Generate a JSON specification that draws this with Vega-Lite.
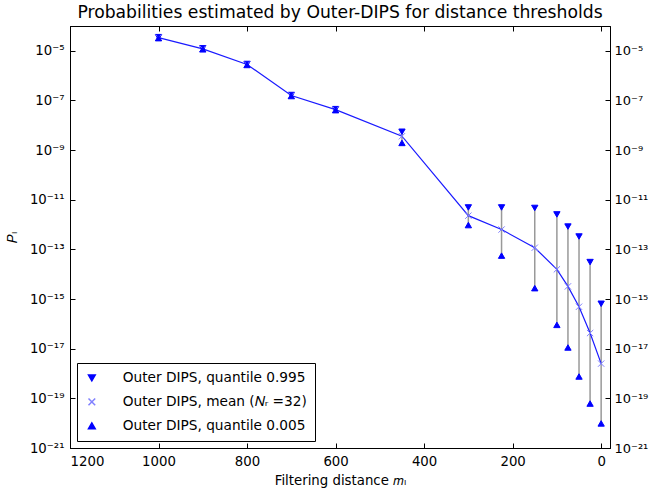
{
  "$schema": "https://vega.github.io/schema/vega-lite/v6.json",
  "autosize": {"type": "none"},
  "padding": {"left": 70, "top": 26, "right": 39, "bottom": 44},
  "width": 540,
  "height": 422,
  "title": {"text": "Probabilities estimated by Outer-DIPS for distance thresholds", "fontSize": 17.2, "fontWeight": "normal", "font": "DejaVu Sans", "color": "black", "offset": 4},
  "config": {
    "font": "DejaVu Sans",
    "view": {"stroke": "black", "strokeWidth": 1},
    "axis": {"grid": false, "domainColor": "black", "tickColor": "black", "labelColor": "black", "titleColor": "black", "labelFont": "DejaVu Sans", "labelFontSize": 13.3, "tickSize": -5, "labelPadding": 11, "titleFont": "DejaVu Sans", "titleFontSize": 13.3, "titleFontWeight": "normal"},
    "legend": {"labelFont": "DejaVu Sans", "labelFontSize": 13.7, "labelColor": "black", "labelLimit": 0}
  },
  "data": {"values": [
    {"d": 1000, "mean": 3.39e-5, "hi": 3.55e-5, "lo": 3.24e-5},
    {"d": 900, "mean": 1.20e-5, "hi": 1.26e-5, "lo": 1.15e-5},
    {"d": 800, "mean": 2.82e-6, "hi": 2.95e-6, "lo": 2.69e-6},
    {"d": 700, "mean": 1.58e-7, "hi": 1.66e-7, "lo": 1.51e-7},
    {"d": 600, "mean": 4.27e-8, "hi": 4.47e-8, "lo": 4.07e-8},
    {"d": 450, "mean": 3.63e-9, "hi": 5.50e-9, "lo": 1.95e-9},
    {"d": 300, "mean": 2.29e-12, "hi": 4.90e-12, "lo": 9.55e-13},
    {"d": 225, "mean": 6.31e-13, "hi": 4.90e-12, "lo": 5.62e-14},
    {"d": 150, "mean": 1.17e-13, "hi": 4.68e-12, "lo": 2.75e-15},
    {"d": 100, "mean": 1.58e-14, "hi": 2.57e-12, "lo": 9.12e-17},
    {"d": 75, "mean": 3.24e-15, "hi": 8.32e-13, "lo": 1.12e-17},
    {"d": 50, "mean": 4.90e-16, "hi": 3.31e-13, "lo": 7.59e-19},
    {"d": 25, "mean": 4.27e-17, "hi": 3.09e-14, "lo": 6.17e-20},
    {"d": 0, "mean": 2.51e-18, "hi": 6.46e-16, "lo": 9.77e-21}
  ]},
  "resolve": {"axis": {"x": "independent", "y": "independent"}},
  "layer": [
    {
      "mark": {"type": "rule", "color": "#999999", "strokeWidth": 1.5},
      "encoding": {
        "x": {"field": "d", "type": "quantitative", "scale": {"domain": [-20, 1200], "reverse": true, "nice": false, "zero": false}, "axis": {"orient": "top", "labels": false, "title": null, "values": [0, 200, 400, 600, 800, 1000, 1200]}},
        "y": {"field": "lo", "type": "quantitative", "scale": {"type": "log", "domain": [1e-21, 1e-4], "nice": false}, "axis": {"orient": "right", "title": null, "labelPadding": 9, "labelFontSize": 13, "values": [1e-5, 1e-7, 1e-9, 1e-11, 1e-13, 1e-15, 1e-17, 1e-19, 1e-21], "labelAlign": "left", "labelExpr": "'10' + replace(replace(replace(replace(replace(replace(replace(replace(replace('' + round(log(datum.value)/LN10), '-', '⁻'), '1', '¹'), '1', '¹'), '2', '²'), '3', '³'), '5', '⁵'), '7', '⁷'), '9', '⁹'), '0', '⁰')"}},
        "y2": {"field": "hi"}
      }
    },
    {
      "mark": {"type": "line", "color": "#1a1aff", "strokeWidth": 1.2},
      "encoding": {
        "x": {"field": "d", "type": "quantitative", "axis": {"orient": "bottom", "title": "Filtering distance 𝑚ₗ", "format": "d", "values": [0, 200, 400, 600, 800, 1000, 1200], "titlePadding": 6}},
        "y": {"field": "mean", "type": "quantitative", "axis": {"orient": "left", "title": "𝑃ₗ", "titlePadding": 10, "values": [1e-5, 1e-7, 1e-9, 1e-11, 1e-13, 1e-15, 1e-17, 1e-19, 1e-21], "labelExpr": "'10' + replace(replace(replace(replace(replace(replace(replace(replace(replace('' + round(log(datum.value)/LN10), '-', '⁻'), '1', '¹'), '1', '¹'), '2', '²'), '3', '³'), '5', '⁵'), '7', '⁷'), '9', '⁹'), '0', '⁰')"}}
      }
    },
    {
      "transform": [{"fold": ["hi", "mean", "lo"], "as": ["series", "val"]}],
      "mark": {"type": "point", "size": 40, "strokeWidth": 1, "opacity": 1},
      "encoding": {
        "x": {"field": "d", "type": "quantitative", "axis": null},
        "y": {"field": "val", "type": "quantitative", "axis": null},
        "shape": {"field": "series", "type": "nominal", "scale": {"domain": ["hi", "mean", "lo"], "range": ["triangle-down", "M-1,-1L1,1M-1,1L1,-1", "triangle-up"]}, "legend": {"title": null, "orient": "bottom-left", "offset": 7, "strokeColor": "black", "fillColor": "white", "padding": 8, "rowPadding": 9, "symbolSize": 45, "labelLimit": 0, "labelOffset": 24, "labelExpr": "datum.label == 'hi' ? 'Outer DIPS, quantile 0.995' : datum.label == 'mean' ? 'Outer DIPS, mean (𝑁ᵣ =32)' : 'Outer DIPS, quantile 0.005'"}},
        "fill": {"field": "series", "type": "nominal", "scale": {"domain": ["hi", "mean", "lo"], "range": ["#0000ff", "transparent", "#0000ff"]}, "legend": {"title": null, "orient": "bottom-left", "offset": 7, "strokeColor": "black", "fillColor": "white", "padding": 8, "rowPadding": 9, "symbolSize": 45, "labelLimit": 0, "labelOffset": 24, "labelExpr": "datum.label == 'hi' ? 'Outer DIPS, quantile 0.995' : datum.label == 'mean' ? 'Outer DIPS, mean (𝑁ᵣ =32)' : 'Outer DIPS, quantile 0.005'"}},
        "stroke": {"field": "series", "type": "nominal", "scale": {"domain": ["hi", "mean", "lo"], "range": ["#0000ff", "#8080ff", "#0000ff"]}, "legend": {"title": null, "orient": "bottom-left", "offset": 7, "strokeColor": "black", "fillColor": "white", "padding": 8, "rowPadding": 9, "symbolSize": 45, "labelLimit": 0, "labelOffset": 24, "labelExpr": "datum.label == 'hi' ? 'Outer DIPS, quantile 0.995' : datum.label == 'mean' ? 'Outer DIPS, mean (𝑁ᵣ =32)' : 'Outer DIPS, quantile 0.005'"}}
      }
    }
  ]
}
